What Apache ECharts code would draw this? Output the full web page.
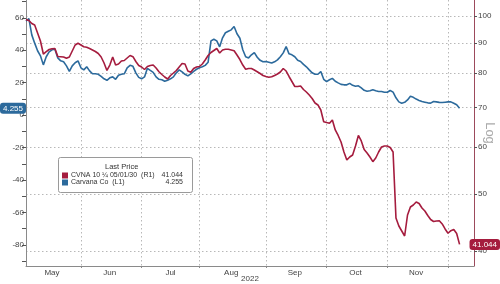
<!DOCTYPE html>
<html><head><meta charset="utf-8">
<script src="https://cdn.jsdelivr.net/npm/echarts@6/dist/echarts.min.js"></script>
<style>html,body{margin:0;padding:0;background:#fff}#c{width:500px;height:284px}</style>
</head><body><div id="c"></div>
<script>
// ---- data ----
const startDate = '2022-05-04';
const holidays = ['2022-05-30','2022-06-20','2022-07-04','2022-09-05','2022-11-24'];
const nDays = 156;
const monthNames = ['Jan','Feb','Mar','Apr','May','Jun','Jul','Aug','Sep','Oct','Nov','Dec'];
const labelIdx = [9,29,50,71,93,114,135];
const leftTickLabels = [-80,-60,-40,-20,0,20,40,60];
const leftTicks = [-90,-80,-70,-60,-50,-40,-30,-20,-10,0,10,20,30,40,50,60,70];
const rightTickLabels = [40,50,60,70,80,90,100];
const blueName = 'Carvana Co  (L1)';
const redName = 'CVNA 10 \u00BC 05/01/30  (R1)';
const blueValues = [
58.0,59.5,49.5,44.4,39.7,36.6,31.0,36.0,39.0,40.3,
40.6,35.3,33.5,32.9,30.4,27.0,30.4,32.3,33.5,29.2,
27.9,29.8,27.3,25.5,25.5,25.2,23.9,22.4,21.5,23.0,
23.6,22.1,24.6,25.2,25.5,29.2,30.7,30.1,26.1,23.3,
22.4,23.6,28.9,27.6,26.4,23.6,22.1,21.8,20.9,21.5,
22.4,23.6,26.1,27.9,26.7,25.2,24.2,25.5,27.0,28.3,
29.2,29.8,30.7,32.6,45.8,46.8,45.8,42.1,47.7,50.8,
51.7,52.6,54.7,50.2,47.4,40.3,36.0,35.3,37.2,38.6,
35.7,33.8,32.9,33.1,32.6,32.1,32.9,34.1,36.0,38.4,
42.3,37.8,37.2,36.0,33.8,33.1,31.3,29.8,27.9,26.1,
25.2,25.2,26.9,22.1,20.7,21.8,22.7,20.9,19.9,19.0,
18.7,18.7,19.6,18.4,17.8,18.1,16.8,15.3,14.7,15.0,
15.6,15.0,14.6,14.6,14.1,14.1,15.2,14.2,10.7,8.2,
7.4,7.9,9.4,11.6,11.0,9.9,9.1,8.4,8.0,7.6,
7.4,8.4,8.2,7.9,7.8,8.0,8.2,8.2,7.3,6.4,
4.255
];
const redValues = [
98.6,98.26,97.12,96.55,93.59,90.71,86.23,87.01,87.76,88.0,
88.1,85.39,85.33,85.23,84.8,85.23,87.25,89.31,89.9,89.31,
88.72,88.55,88.1,87.59,87.07,86.4,85.23,83.26,80.86,82.61,
85.23,82.61,82.93,83.91,84.07,84.9,85.73,85.33,83.75,82.45,
81.97,81.18,82.13,82.45,82.61,81.65,80.48,79.61,78.84,78.23,
79.3,80.07,80.86,81.97,83.09,82.93,80.70,80.29,81.49,81.97,
82.13,82.93,84.24,85.73,86.74,87.42,88.1,86.57,87.59,87.83,
87.83,87.59,87.35,85.89,84.4,82.61,81.24,81.49,81.49,81.01,
80.48,79.92,79.3,78.99,78.74,78.9,79.3,79.76,80.39,81.49,
80.7,78.99,77.46,75.97,75.97,76.12,75.09,74.36,73.49,72.5,
71.24,70.69,69.32,66.23,66.02,65.82,66.67,64.12,62.76,61.19,
58.85,57.04,57.71,58.16,60.24,62.76,61.43,59.43,58.62,57.71,
56.67,57.49,58.85,60.01,60.24,60.24,59.89,58.85,45.5,44.1,
43.25,42.41,46.03,47.49,47.86,48.42,48.14,47.31,46.76,45.94,
45.23,44.88,44.97,45.0,44.45,43.59,42.87,43.3,43.5,42.83,
41.044
];
const lastBlue = blueValues[blueValues.length-1];
const lastRed = redValues[redValues.length-1];

// ---- categories (trading days) ----
const dates = [];
{
  let d = new Date(startDate + 'T00:00:00Z');
  while (dates.length < nDays) {
    const s = d.toISOString().slice(0,10);
    const wd = d.getUTCDay();
    if (wd !== 0 && wd !== 6 && !holidays.includes(s)) dates.push(s);
    d = new Date(d.getTime() + 86400000);
  }
}
const monthStarts = [];
for (let i = 1; i < dates.length; i++) if (dates[i].slice(5,7) !== dates[i-1].slice(5,7)) monthStarts.push(i);

const BLUE = '#2c6a9c', RED = '#a51c3e';
const FONT = 'Liberation Sans';
const chart = echarts.init(document.getElementById('c'), null, {renderer:'canvas'});
chart.setOption({
  animation:false,
  backgroundColor:'#fff',
  textStyle:{fontFamily:FONT},
  grid:{left:26, right:26, top:0, bottom:18, outerBoundsMode:'none', containLabel:false},
  axisPointer:{triggerOn:'none'},
  title:{text:'Last Price', left:105, top:163, padding:0,
    textStyle:{fontSize:7.5, fontWeight:'normal', color:'#333', fontFamily:FONT}},
  legend:{
    orient:'vertical', left:62, top:172, padding:0, itemGap:0,
    itemWidth:6, itemHeight:6, icon:'rect',
    data:[redName, blueName],
    textStyle:{fontSize:7, color:'#333', fontFamily:FONT, padding:[0,0,0,-2],
      rich:{n:{width:92, fontSize:7, fontFamily:FONT, color:'#333'},
            v:{width:20, align:'right', fontSize:7, fontFamily:FONT, color:'#333'}}},
    formatter: name => `{n|${name}}{v|${name===redName ? lastRed.toFixed(3) : lastBlue.toFixed(3)}}`
  },
  graphic:[{type:'rect', z:3, shape:{x:58.5, y:157.5, width:134, height:35, r:2},
    style:{fill:'#fff', stroke:'#9a9a9a', lineWidth:1}}],
  xAxis:{
    type:'category', data:dates, boundaryGap:false,
    name:'2022', nameLocation:'middle', nameGap:9, nameMoveOverlap:false,
    nameTextStyle:{fontSize:8, color:'#444', fontFamily:FONT},
    axisLine:{onZero:false, lineStyle:{color:'#8a8a8a', width:1}},
    axisTick:{show:true, length:2, interval:(i)=>monthStarts.includes(i), lineStyle:{color:'#8a8a8a'}},
    axisLabel:{interval:(i)=>labelIdx.includes(i), margin:3, fontSize:8, color:'#444',
      formatter:(v)=>monthNames[+v.slice(5,7)-1]},
    splitLine:{show:true, interval:(i)=>monthStarts.includes(i),
      lineStyle:{type:[1.5,2.5], color:'#b8b8b8', width:1}}
  },
  yAxis:[
    {type:'value', position:'left', min:-93, max:71,
      axisLine:{show:true, onZero:false, lineStyle:{color:'#8a8a8a'}},
      axisTick:{show:true, length:4, customValues:leftTicks, lineStyle:{color:'#555'}},
      axisLabel:{customValues:leftTickLabels, margin:2, fontSize:8, color:'#444'},
      splitLine:{show:false},
      axisPointer:{show:true, status:'show', value:lastBlue, type:'line', triggerTooltip:false,
        lineStyle:{opacity:0},
        label:{show:true, backgroundColor:BLUE, color:'#fff', fontSize:8, padding:[2,3,1,3],
          margin:1, formatter:()=>lastBlue.toFixed(3)}}
    },
    {type:'log', logBase:10, position:'right', min:37.73, max:106.44,
      name:'Log', nameLocation:'middle', nameGap:9, nameRotate:-90, nameMoveOverlap:false,
      nameTextStyle:{fontSize:13, color:'#aaa', fontFamily:FONT},
      axisLine:{show:true, onZero:false, lineStyle:{color:'#9c4a5c'}},
      axisTick:{show:true, length:3, customValues:rightTickLabels, lineStyle:{color:'#555'}},
      axisLabel:{customValues:rightTickLabels, margin:4, fontSize:8, color:'#444'},
      splitLine:{show:true, lineStyle:{type:[1.5,2.5], color:'#b8b8b8', width:1}},
      axisPointer:{show:true, status:'show', value:lastRed, type:'line', triggerTooltip:false,
        lineStyle:{opacity:0},
        label:{show:true, backgroundColor:RED, color:'#fff', fontSize:8, padding:[2,3,1,3],
          margin:1, formatter:()=>lastRed.toFixed(3)}}
    }
  ],
  series:[
    {name:blueName, type:'line', yAxisIndex:0, data:blueValues, showSymbol:false, symbol:'none',
      lineStyle:{color:BLUE, width:1.6}, itemStyle:{color:BLUE}, z:2},
    {name:redName, type:'line', yAxisIndex:1, data:redValues, showSymbol:false, symbol:'none',
      lineStyle:{color:RED, width:1.6}, itemStyle:{color:RED}, z:3}
  ]
});
</script></body></html>
